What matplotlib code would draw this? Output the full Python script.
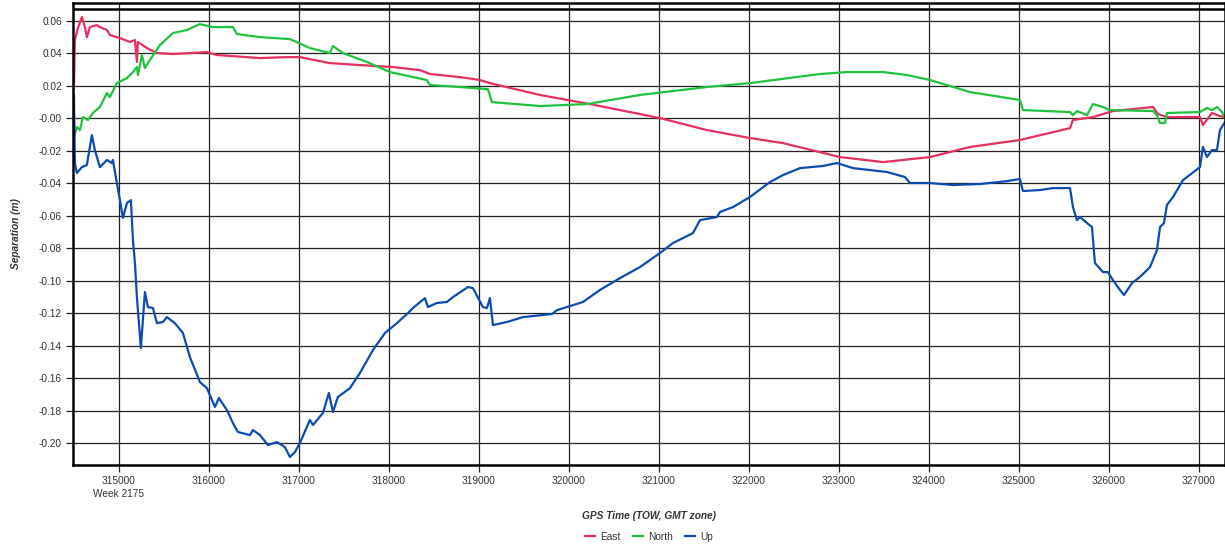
import matplotlib.pyplot as plt
from matplotlib.ticker import FuncFormatter, MultipleLocator

# GPS time of week (s) and separation (m) per component
up_t = [314500, 314511, 314533, 314589, 314644, 314700, 314733, 314789, 314867, 314922,
        314933, 314978, 315011, 315044, 315089, 315133, 315156, 315178, 315200, 315244,
        315289, 315322, 315378, 315422, 315489, 315533, 315622, 315711, 315789, 315900,
        315978, 316067, 316111, 316200, 316267, 316322, 316456, 316489, 316567, 316656,
        316756, 316844, 316900, 316956, 317011, 317122, 317156, 317267, 317333, 317378,
        317433, 317567, 317678, 317822, 317956, 318089, 318211, 318267, 318400, 318433,
        318533, 318644, 318711, 318878, 318933, 319044, 319089, 319122, 319156, 319311,
        319489, 319811, 319867, 320044, 320156, 320344, 320567, 320789, 321011, 321156,
        321378, 321456, 321644, 321678, 321822, 322011, 322233, 322378, 322567, 322822,
        322978, 323156, 323533, 323733, 323789, 324011, 324267, 324567, 324867, 325011,
        325044, 325233, 325378, 325567, 325600, 325644, 325678, 325756, 325811, 325844,
        325933, 325989, 326044, 326122, 326167, 326256, 326344, 326456, 326533, 326567,
        326611, 326644, 326711, 326822, 327011, 327044, 327089, 327144, 327200, 327233,
        327267, 327289]
up_v = [0.0142, -0.0277, -0.0338, -0.0302, -0.0289, -0.0105, -0.0197, -0.0302, -0.0258, -0.0277,
        -0.0258, -0.0400, -0.0505, -0.0615, -0.0523, -0.0505, -0.0751, -0.0892, -0.1102, -0.1415,
        -0.1071, -0.1163, -0.1169, -0.1262, -0.1255, -0.1225, -0.1262, -0.1323, -0.1471, -0.1625,
        -0.1662, -0.1778, -0.1723, -0.1797, -0.1877, -0.1932, -0.1951, -0.1920, -0.1951, -0.2012,
        -0.1994, -0.2025, -0.2086, -0.2055, -0.2000, -0.1858, -0.1889, -0.1815, -0.1692, -0.1809,
        -0.1717, -0.1662, -0.1569, -0.1428, -0.1323, -0.1262, -0.1200, -0.1169, -0.1108, -0.1163,
        -0.1138, -0.1132, -0.1102, -0.1040, -0.1046, -0.1163, -0.1169, -0.1108, -0.1274, -0.1255,
        -0.1225, -0.1206, -0.1182, -0.1151, -0.1132, -0.1058, -0.0985, -0.0917, -0.0831, -0.0769,
        -0.0708, -0.0628, -0.0609, -0.0578, -0.0548, -0.0486, -0.0394, -0.0351, -0.0308, -0.0295,
        -0.0277, -0.0308, -0.0332, -0.0363, -0.0400, -0.0400, -0.0412, -0.0406, -0.0388, -0.0375,
        -0.0449, -0.0443, -0.0431, -0.0431, -0.0548, -0.0628, -0.0609, -0.0646, -0.0671, -0.0892,
        -0.0948, -0.0948, -0.0997, -0.1058, -0.1089, -0.1015, -0.0978, -0.0917, -0.0812, -0.0671,
        -0.0646, -0.0535, -0.0486, -0.0382, -0.0302, -0.0178, -0.0240, -0.0197, -0.0197, -0.0074,
        -0.0043, -0.0025]

east_t = [314500, 314511, 314544, 314589, 314622, 314644, 314678, 314756, 314789, 314867,
          314900, 315011, 315122, 315178, 315200, 315211, 315311, 315422, 315600, 315978,
          316089, 316567, 316867, 317011, 317344, 317678, 318044, 318344, 318456, 318789,
          319011, 319122, 319678, 320233, 321011, 321533, 322011, 322378, 323011, 323489,
          323711, 324011, 324456, 325011, 325567, 325600, 325822, 326044, 326489, 326544,
          326644, 327011, 327044, 327144, 327233, 327289]
east_v = [0.0185, 0.0480, 0.0554, 0.0622, 0.0560, 0.0498, 0.0560, 0.0572, 0.0560, 0.0542,
          0.0511, 0.0492, 0.0468, 0.0480, 0.0345, 0.0468, 0.0431, 0.0400, 0.0394, 0.0406,
          0.0388, 0.0369, 0.0375, 0.0375, 0.0338, 0.0326, 0.0314, 0.0295, 0.0271, 0.0252,
          0.0234, 0.0215, 0.0142, 0.0086, 0.0000, -0.0074, -0.0123, -0.0154, -0.0240, -0.0271,
          -0.0258, -0.0240, -0.0178, -0.0135, -0.0062, -0.0012, 0.0006, 0.0043, 0.0068, 0.0025,
          0.0006, 0.0006, -0.0043, 0.0031, 0.0012, 0.0006]

north_t = [314500, 314533, 314567, 314600, 314656, 314711, 314789, 314867, 314900, 314978,
           315089, 315156, 315200, 315211, 315256, 315289, 315344, 315456, 315600, 315756,
           315900, 316044, 316267, 316311, 316567, 316900, 317122, 317344, 317378, 317489,
           317756, 318011, 318422, 318456, 318789, 319100, 319144, 319678, 320200, 320789,
           321533, 322011, 322789, 323089, 323489, 323756, 324011, 324456, 325011, 325044,
           325567, 325600, 325644, 325756, 325822, 325933, 326011, 326489, 326533, 326567,
           326622, 326644, 327011, 327089, 327144, 327200, 327256, 327289]
north_v = [-0.0117, -0.0055, -0.0074, 0.0006, -0.0012, 0.0031, 0.0068, 0.0154, 0.0129, 0.0215,
           0.0246, 0.0283, 0.0314, 0.0265, 0.0388, 0.0308, 0.0357, 0.0449, 0.0523, 0.0542,
           0.0578, 0.0560, 0.0560, 0.0517, 0.0498, 0.0486, 0.0431, 0.0400, 0.0443, 0.0400,
           0.0345, 0.0283, 0.0234, 0.0203, 0.0191, 0.0178, 0.0098, 0.0074, 0.0086, 0.0142,
           0.0191, 0.0215, 0.0271, 0.0283, 0.0283, 0.0265, 0.0234, 0.0160, 0.0111, 0.0049,
           0.0037, 0.0018, 0.0043, 0.0018, 0.0086, 0.0068, 0.0049, 0.0043, 0.0018, -0.0031,
           -0.0031, 0.0031, 0.0037, 0.0062, 0.0049, 0.0068, 0.0037, 0.0000]

x_ticks = [315000, 316000, 317000, 318000, 319000, 320000, 321000, 322000,
           323000, 324000, 325000, 326000, 327000]

plt.rcParams['font.family'] = ['Liberation Sans', 'DejaVu Sans']
txt = '#333333'

fig = plt.figure(figsize=(12.25, 5.46), dpi=100)
ax = fig.add_axes([73 / 1225, 1 - 465 / 546, 1 - 73 / 1225, (465 - 3) / 546])

ax.plot(east_t, east_v, color='#e5305f', lw=1.6, label='East')
ax.plot(north_t, north_v, color='#1fc23c', lw=1.6, label='North')
ax.plot(up_t, up_v, color='#0b4cb0', lw=1.6, label='Up')

ax.set_xlim(314490, 327289)
ax.set_ylim(-0.2135, 0.0708)
ax.axhline(0.0671, color='black', lw=1.8, zorder=1)

ax.set_xticks(x_ticks)
ax.yaxis.set_major_locator(MultipleLocator(0.02))
ax.yaxis.set_major_formatter(FuncFormatter(
    lambda v, p: '-0.00' if abs(v) < 1e-9 else '%.2f' % v))
ax.set_xticklabels([str(t) for t in x_ticks])

ax.grid(True, color='#222222', lw=0.9)
ax.set_axisbelow(True)
for s in ax.spines.values():
    s.set_linewidth(1.8)
    s.set_color('black')
ax.tick_params(length=5, width=0.9, color='#222222', labelsize=7.3,
               labelcolor=txt, pad=3)

ax.annotate('Week 2175', xy=(315000, 0), xycoords=('data', 'axes fraction'),
            xytext=(0, -17.5), textcoords='offset points', ha='center', va='top',
            fontsize=7.3, color=txt)

ax.set_xlabel('GPS Time (TOW, GMT zone)', fontsize=7.3, fontweight='bold',
              fontstyle='italic', color=txt, labelpad=18)
ax.set_ylabel('Separation (m)', fontsize=7.3, fontweight='bold',
              fontstyle='italic', color=txt, labelpad=13)

fig.legend(*ax.get_legend_handles_labels(), loc='center',
           bbox_to_anchor=(649 / 1225, 1 - 537 / 546), ncol=3,
           frameon=False, fontsize=7.3, handlelength=1.0, handletextpad=0.5,
           columnspacing=1.2, labelcolor=txt, borderaxespad=0, borderpad=0)

fig.savefig('out.png', dpi=100)
